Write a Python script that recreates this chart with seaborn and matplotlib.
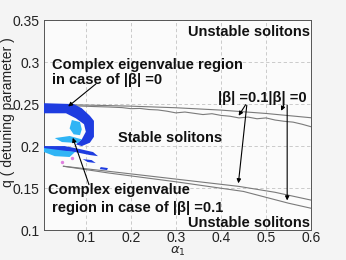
import matplotlib
matplotlib.use("Agg")
import matplotlib.pyplot as plt
import seaborn as sns
import pandas as pd

# ---- data ----
alpha_b0_up = [0.01, 0.1, 0.2, 0.3, 0.4, 0.5, 0.6]
q_b0_up = [0.2495, 0.2488, 0.2475, 0.2456, 0.2428, 0.2388, 0.2337]

alpha_b01_up = [0.06, 0.09, 0.12, 0.15, 0.18, 0.20, 0.22, 0.24, 0.26, 0.28, 0.30, 0.32,
                0.34, 0.36, 0.38, 0.40, 0.42, 0.44, 0.46, 0.48, 0.50, 0.52, 0.54, 0.56,
                0.58, 0.60]
q_b01_up = [0.2478, 0.2476, 0.2470, 0.2465, 0.2458, 0.2445, 0.2448, 0.2435, 0.2430, 0.2415,
            0.2395, 0.2405, 0.2390, 0.2375, 0.2385, 0.2365, 0.2355, 0.2335, 0.2345, 0.2325,
            0.2335, 0.2310, 0.2295, 0.2285, 0.2260, 0.2230]

alpha_b01_low = [0.05, 0.15, 0.30, 0.44, 0.52, 0.60]
q_b01_low = [0.176, 0.170, 0.1607, 0.152, 0.145, 0.1357]

alpha_b0_low = [0.05, 0.15, 0.30, 0.45, 0.55, 0.60]
q_b0_low = [0.176, 0.168, 0.1575, 0.146, 0.132, 0.126]

# complex-eigenvalue regions (outline vertices)
blue_main_a = [0.007, 0.073, 0.091, 0.109, 0.118, 0.118, 0.109, 0.091, 0.078, 0.091, 0.100,
               0.096, 0.078, 0.056, 0.007]
blue_main_q = [0.251, 0.250, 0.245, 0.236, 0.230, 0.211, 0.204, 0.200, 0.202, 0.208, 0.217,
               0.226, 0.233, 0.239, 0.239]
blue_wisp_a = [0.007, 0.053, 0.087, 0.116, 0.127, 0.109, 0.076, 0.007]
blue_wisp_q = [0.200, 0.200, 0.1964, 0.1929, 0.188, 0.1893, 0.1929, 0.1952]
blue_bit1_a = [0.093, 0.113, 0.122, 0.104]
blue_bit1_q = [0.1845, 0.1833, 0.1798, 0.181]
blue_bit2_a = [0.133, 0.149, 0.147, 0.131]
blue_bit2_q = [0.175, 0.1738, 0.1714, 0.1726]

cyan1_a = [0.069, 0.087, 0.091, 0.087, 0.073, 0.064]
cyan1_q = [0.231, 0.2286, 0.220, 0.213, 0.214, 0.221]
cyan2_a = [0.031, 0.064, 0.091, 0.082, 0.047]
cyan2_q = [0.2095, 0.212, 0.208, 0.2036, 0.2048]
cyan3_a = [0.007, 0.042, 0.076, 0.064, 0.031, 0.007]
cyan3_q = [0.1976, 0.1952, 0.1929, 0.187, 0.188, 0.1929]

pink_a = [0.069, 0.047]
pink_q = [0.186, 0.181]

xticks = [0.1, 0.2, 0.3, 0.4, 0.5, 0.6]
yticks = [0.1, 0.15, 0.2, 0.25, 0.3, 0.35]
xtick_labels = ["0.1", "0.2", "0.3", "0.4", "0.5", "0.6"]
ytick_labels = ["0.1", "0.15", "0.2", "0.25", "0.3", "0.35"]

# ---- drawing ----
sns.set_style("white")
plt.rcParams['font.family'] = ['Liberation Sans', 'DejaVu Sans']

fig = plt.figure(figsize=(3.46, 2.60), dpi=100, facecolor='#f4f4f4')
ax = fig.add_axes([0.127, 0.115, 0.772, 0.808])
ax.set_facecolor('#fbfbfb')

line_color = '#7a7a7a'
for a, q in [(alpha_b0_up, q_b0_up), (alpha_b01_up, q_b01_up),
             (alpha_b01_low, q_b01_low), (alpha_b0_low, q_b0_low)]:
    sns.lineplot(x=a, y=q, ax=ax, color=line_color, linewidth=0.8, sort=False,
                 estimator=None)

dark_blue = '#1e3ce0'
cyan = '#2fb4f5'
for a, q in [(blue_main_a, blue_main_q), (blue_wisp_a, blue_wisp_q),
             (blue_bit1_a, blue_bit1_q), (blue_bit2_a, blue_bit2_q)]:
    ax.fill(a, q, color=dark_blue, lw=0, zorder=3)
for a, q in [(cyan1_a, cyan1_q), (cyan2_a, cyan2_q), (cyan3_a, cyan3_q)]:
    ax.fill(a, q, color=cyan, lw=0, zorder=4)
sns.scatterplot(x=pink_a, y=pink_q, ax=ax, color='#e080e0', s=6, linewidth=0, zorder=5)

ax.set_xlim(0.007, 0.6)
ax.set_ylim(0.1, 0.35)
ax.set_xticks(xticks)
ax.set_xticklabels(xtick_labels)
ax.set_yticks(yticks)
ax.set_yticklabels(ytick_labels)
ax.tick_params(direction='in', length=3, labelsize=10, colors='#222222', pad=3,
               width=0.6)
ax.tick_params(axis='x', pad=1)
ax.grid(True, color='#c4c4c4', linestyle=(0, (4, 3)), linewidth=0.6)
for s in ax.spines.values():
    s.set_color('#555555')
    s.set_linewidth(0.7)

ax.set_xlabel(r'$\alpha_1$', fontsize=9.5)
ax.xaxis.set_label_coords(0.5, -0.07)
ax.set_ylabel('q ( detuning parameter )', fontsize=10, color='#222222')
ax.yaxis.set_label_coords(-0.108, 0.56)

tk = dict(fontsize=10.5, fontweight='bold', color='#111111', zorder=6)
ax.text(0.598, 0.3357, 'Unstable solitons', ha='right', va='center', **tk)
ax.text(0.598, 0.1083, 'Unstable solitons', ha='right', va='center', **tk)
ax.text(0.171, 0.2095, 'Stable solitons', ha='left', va='center', **tk)
ax.text(0.024, 0.2875, 'Complex eigenvalue region\nin case of |β| =0', ha='left',
        va='center', linespacing=1.05, **tk)
ax.text(0.015, 0.1476, 'Complex eigenvalue', ha='left', va='center', **tk)
ax.text(0.025, 0.1262, 'region in case of |β| =0.1', ha='left', va='center', **tk)
ax.text(0.393, 0.257, '|β| =0.1|β| =0', ha='left', va='center', **tk)

arr = dict(arrowstyle='-|>', color='black', lw=0.8, mutation_scale=6)
ax.annotate('', xy=(0.056, 0.245), xytext=(0.127, 0.276), arrowprops=arr, zorder=7)
ax.annotate('', xy=(0.069, 0.213), xytext=(0.109, 0.151), arrowprops=arr, zorder=7)
ax.annotate('', xy=(0.436, 0.2333), xytext=(0.458, 0.252), arrowprops=arr)
ax.annotate('', xy=(0.438, 0.1524), xytext=(0.458, 0.252), arrowprops=arr)
ax.annotate('', xy=(0.531, 0.239), xytext=(0.542, 0.252), arrowprops=arr)
ax.annotate('', xy=(0.547, 0.132), xytext=(0.547, 0.252), arrowprops=arr)

fig.savefig('out.png', dpi=100, facecolor=fig.get_facecolor())
